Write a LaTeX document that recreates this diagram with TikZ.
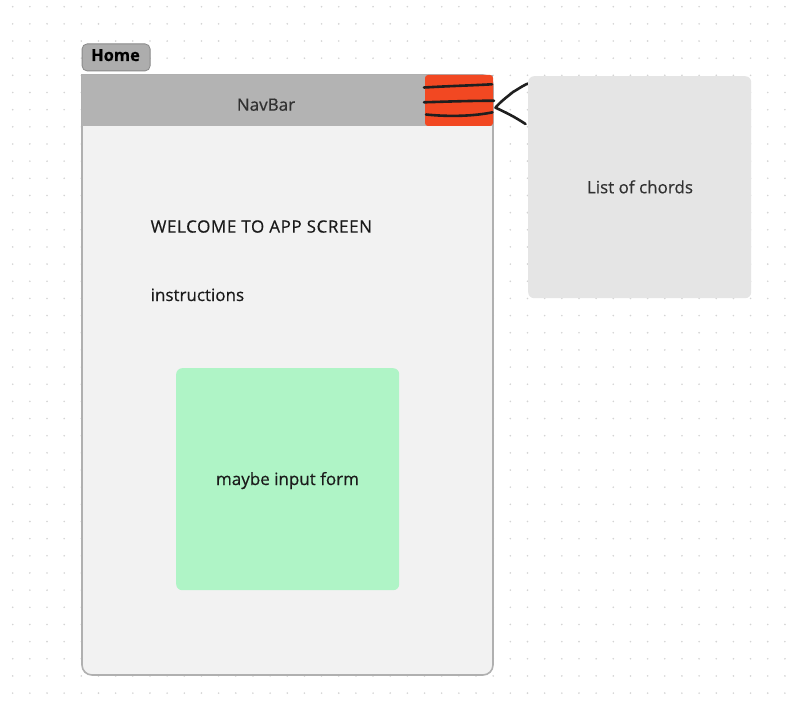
\documentclass[tikz,border=0pt]{standalone}
\usepackage{fontspec}
\setmainfont{Open Sans}[FakeBold=0.5]
\begin{document}
\begin{tikzpicture}[x=1pt,y=-1pt,
  txt/.style={font=\fontsize{17}{20}\selectfont, text=ink, inner sep=0pt, anchor=base},
  card/.style={rounded corners=6pt},
  scribble/.style={draw=black!88, line width=2.6pt, line cap=round, line join=round}]
\definecolor{ink}{HTML}{1A1A1A}
\definecolor{dotc}{HTML}{D4D4D4}
\definecolor{framefill}{HTML}{F2F2F2}
\definecolor{frameline}{HTML}{B0B0B0}
\definecolor{navfill}{HTML}{B3B3B3}
\definecolor{burger}{HTML}{F24822}
\definecolor{panel}{HTML}{E5E5E5}
\definecolor{mint}{HTML}{AFF4C6}
\definecolor{tagfill}{HTML}{ADADAD}
\definecolor{tagline}{HTML}{8A8A8A}

\useasboundingbox (0,0) rectangle (795,706);
\fill[white] (0,0) rectangle (795,706);

% canvas dot grid
\foreach \i in {0,...,46}{
  \foreach \j in {0,...,40}{
    \fill[dotc] (12.7+17.16*\i, 6.7+17.16*\j) circle (0.9pt);
  }
}

% screen frame
\filldraw[fill=framefill, draw=frameline, line width=1.6pt, rounded corners=10pt]
  (82,75) [sharp corners] -- (82,75) [rounded corners=10pt] -- (82,675) -- (493,675) -- (493,75) [sharp corners] -- cycle;

% nav bar
\node[fill=navfill, minimum width=411pt, minimum height=51pt, inner sep=0pt, anchor=north west] (nav) at (82,75) {};
\node[txt, text=ink!90] (navlabel) at (266,110.7) {NavBar};

% hamburger button
\path[fill=burger, rounded corners=3pt] (425,75) rectangle (493,126);
\node[inner sep=0pt, minimum width=68pt, minimum height=51pt, anchor=north west] (burgerbtn) at (425,75) {};
\draw[scribble] (424,87.5) .. controls (450,86) and (470,85.5) .. (492,84.3);
\draw[scribble] (424,102.3) .. controls (450,101.5) and (470,100.8) .. (494,100.7);
\draw[scribble] (426,114.5) .. controls (450,117) and (475,116) .. (492.5,112.3);
\draw[scribble] (530,83) .. controls (525,84) and (520,88) .. (513,92)
  .. controls (507,97) and (500,102) .. (495.5,107.7)
  .. controls (505,112) and (515,117) .. (525.5,124);

% page title tag
\node[draw=tagline, fill=tagfill, rounded corners=5pt, line width=0.8pt,
  minimum width=68pt, minimum height=27pt, inner sep=0pt, anchor=north west] (tag) at (81.7,43.5) {};
\node[font=\fontsize{16.5}{20}\selectfont\bfseries, text=black, inner sep=0pt, anchor=base] (taglabel) at (115.5,61) {Home};

% body texts
\node[txt, anchor=base west, font=\fontsize{17}{20}\selectfont\addfontfeature{LetterSpace=3.5}] (welcome) at (150.5,232.6) {WELCOME TO APP SCREEN};
\node[txt, anchor=base west] (instr) at (150.5,301) {instructions};

% input form block
\node[fill=mint, card, minimum width=223pt, minimum height=222pt, inner sep=0pt, anchor=north west] (form) at (176,368) {};
\node[txt] (formlabel) at (287.5,485) {maybe input form};

% side drawer
\node[fill=panel, card, minimum width=223pt, minimum height=222pt, inner sep=0pt, anchor=north west] (drawer) at (528,76) {};
\node[txt, text=ink!90] (drawerlabel) at (640,193.3) {List of chords};
\end{tikzpicture}
\end{document}
